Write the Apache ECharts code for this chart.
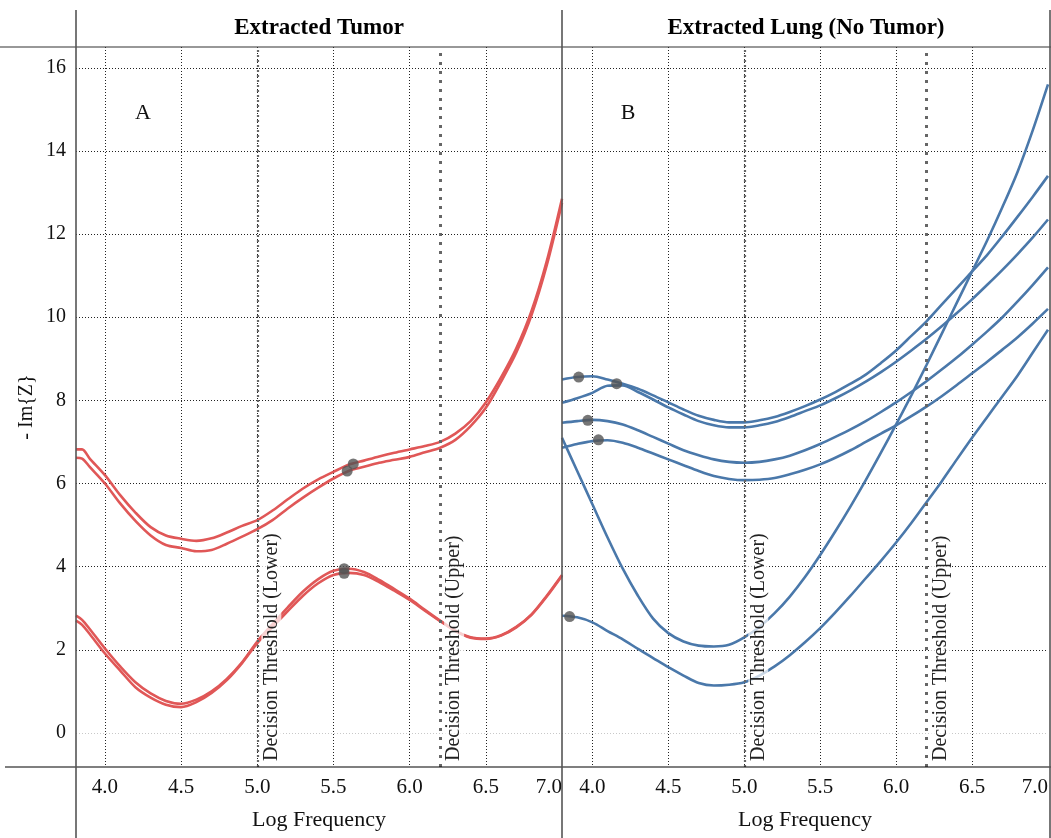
<!DOCTYPE html>
<html>
<head>
<meta charset="utf-8">
<script src="https://cdn.jsdelivr.net/npm/echarts@6/dist/echarts.min.js"></script>
<style>
  html, body { margin: 0; padding: 0; background: #fff; }
  #chart { width: 1051px; height: 838px; }
</style>
</head>
<body>
<div id="chart"></div>
<script>
// panel A: extracted tumor
var tumorX = [3.81, 3.85, 3.9, 4.0, 4.1, 4.2, 4.3, 4.4, 4.5, 4.6, 4.7, 4.8, 4.9, 5.0, 5.1, 5.2, 5.3, 5.4,
              5.5, 5.6, 5.7, 5.8, 5.9, 6.0, 6.1, 6.2, 6.3, 6.4, 6.5, 6.6, 6.7, 6.8, 6.9, 7.0];
var tumorUpperA = [6.82, 6.82, 6.6, 6.2, 5.72, 5.3, 4.95, 4.75, 4.67, 4.62, 4.68, 4.82, 4.98, 5.12, 5.35, 5.62, 5.88, 6.1,
                   6.28, 6.45, 6.55, 6.65, 6.74, 6.82, 6.9, 7.0, 7.2, 7.5, 7.95, 8.55, 9.25, 10.15, 11.35, 12.85];
var tumorUpperB = [6.62, 6.6, 6.4, 6.0, 5.52, 5.1, 4.75, 4.52, 4.45, 4.37, 4.4, 4.55, 4.72, 4.9, 5.12, 5.4, 5.66, 5.9,
                   6.12, 6.3, 6.4, 6.5, 6.57, 6.64, 6.75, 6.86, 7.05, 7.38, 7.82, 8.45, 9.15, 10.05, 11.25, 12.75];
var tumorLowerA = [2.82, 2.72, 2.5, 2.03, 1.6, 1.22, 0.95, 0.77, 0.7, 0.8, 1.0, 1.3, 1.7, 2.2, 2.62, 3.02, 3.4, 3.7,
                   3.9, 3.95, 3.87, 3.68, 3.46, 3.23, 2.96, 2.7, 2.46, 2.3, 2.27, 2.35, 2.55, 2.85, 3.3, 3.8];
var tumorLowerB = [2.7, 2.6, 2.38, 1.91, 1.5, 1.1, 0.85, 0.68, 0.62, 0.74, 0.96, 1.27, 1.68, 2.16, 2.55, 2.93, 3.3, 3.6,
                   3.8, 3.85, 3.8, 3.63, 3.42, 3.2, 2.94, 2.69, 2.45, 2.29, 2.26, 2.34, 2.54, 2.84, 3.28, 3.78];
var tumorDots = [[5.63, 6.47], [5.59, 6.30], [5.57, 3.95], [5.57, 3.84]];

// panel B: extracted lung (no tumor)
var lungX = [3.8, 3.9, 4.0, 4.1, 4.2, 4.3, 4.4, 4.5, 4.6, 4.7, 4.8, 4.9, 5.0, 5.1, 5.2, 5.3, 5.4,
             5.5, 5.6, 5.7, 5.8, 5.9, 6.0, 6.1, 6.2, 6.3, 6.4, 6.5, 6.6, 6.7, 6.8, 6.9, 7.0];
var lung1 = [8.5, 8.56, 8.58, 8.5, 8.4, 8.28, 8.12, 7.95, 7.78, 7.63, 7.53, 7.47, 7.47, 7.52, 7.6, 7.72, 7.86,
             8.02, 8.2, 8.4, 8.62, 8.9, 9.2, 9.55, 9.9, 10.3, 10.7, 11.1, 11.5, 11.95, 12.42, 12.9, 13.4];
var lung2 = [7.94, 8.05, 8.18, 8.35, 8.36, 8.2, 8.02, 7.83, 7.66, 7.5, 7.4, 7.35, 7.35, 7.4, 7.48, 7.6, 7.74,
             7.88, 8.05, 8.24, 8.45, 8.68, 8.93, 9.2, 9.48, 9.78, 10.1, 10.43, 10.78, 11.14, 11.52, 11.92, 12.35];
var lung3 = [7.46, 7.5, 7.53, 7.5, 7.42, 7.28, 7.12, 6.96, 6.8, 6.68, 6.58, 6.52, 6.5, 6.52, 6.58, 6.67, 6.8,
             6.95, 7.12, 7.3, 7.5, 7.72, 7.95, 8.2, 8.46, 8.74, 9.03, 9.34, 9.66, 10.0, 10.38, 10.78, 11.2];
var lung4 = [6.86, 6.95, 7.02, 7.04, 6.98, 6.86, 6.72, 6.58, 6.44, 6.3, 6.18, 6.11, 6.08, 6.09, 6.13, 6.22, 6.33,
             6.46, 6.62, 6.8, 7.0, 7.2, 7.4, 7.62, 7.85, 8.1, 8.37, 8.65, 8.93, 9.22, 9.52, 9.85, 10.2];
var lung5 = [7.1, 6.3, 5.5, 4.7, 3.95, 3.3, 2.75, 2.4, 2.2, 2.1, 2.08, 2.12, 2.3, 2.55, 2.88, 3.28, 3.75,
             4.28, 4.85, 5.45, 6.08, 6.74, 7.42, 8.12, 8.85, 9.6, 10.35, 11.1, 11.85, 12.65, 13.5, 14.5, 15.6];
var lung6 = [2.82, 2.78, 2.66, 2.45, 2.25, 2.02, 1.8, 1.58, 1.38, 1.2, 1.14, 1.16, 1.22, 1.38, 1.6, 1.87, 2.18,
             2.52, 2.9, 3.3, 3.72, 4.14, 4.58, 5.05, 5.55, 6.05, 6.58, 7.1, 7.6, 8.1, 8.6, 9.15, 9.7];
var lungDots = [[3.91, 8.56], [4.16, 8.4], [3.97, 7.52], [4.04, 7.05], [3.85, 2.8]];

var thresholds = [
    {name: 'Decision Threshold (Lower)', x: 5.0},
    {name: 'Decision Threshold (Upper)', x: 6.2}
];
var yTickColors = ['#c8c8c8', '#222', '#222', '#222', '#222', '#222', '#222', '#222', '#222'];

var serif = 'Liberation Serif';
var red = '#e05757';
var blue = '#4a78aa';

function pairs(xs, ys) {
    var res = [];
    for (var i = 0; i < xs.length; i++) {
        res.push([xs[i], ys[i]]);
    }
    return res;
}

function curve(xs, ys, color, idx) {
    return {
        type: 'line',
        xAxisIndex: idx,
        yAxisIndex: idx,
        data: pairs(xs, ys),
        showSymbol: false,
        smooth: 0.3,
        lineStyle: {color: color, width: 2.6},
        z: 3
    };
}

function thresholdLines() {
    return {
        silent: true,
        symbol: 'none',
        data: thresholds.map(function (t, i) {
            return {
                name: t.name,
                xAxis: t.x,
                lineStyle: i === 0
                    ? {color: '#666', width: 2.2, type: [2, 3]}
                    : {color: '#666', width: 3, type: [3, 6]}
            };
        }),
        label: {
            show: true,
            position: 'insideStartBottom',
            distance: 4,
            formatter: '{b}',
            fontFamily: serif,
            fontSize: 20,
            color: '#222',
            backgroundColor: 'rgba(255,255,255,0.72)',
            padding: [0, 2, 0, 2]
        },
        z: 5
    };
}

function xAxisFor(idx, min) {
    return {
        type: 'value',
        gridIndex: idx,
        min: min,
        max: 7.0,
        splitNumber: 6,
        name: 'Log Frequency',
        nameLocation: 'middle',
        nameGap: 42,
        nameTextStyle: {fontFamily: serif, fontSize: 22, color: '#111'},
        axisLine: {show: false},
        axisTick: {show: false},
        axisLabel: {
            fontFamily: serif, fontSize: 21, color: '#111', margin: 10,
            showMinLabel: false, alignMaxLabel: 'right',
            formatter: function (v) { return v.toFixed(1); }
        },
        splitLine: {
            show: true, showMinLine: false, showMaxLine: false,
            lineStyle: {color: '#222', type: [1, 2], width: 1}
        }
    };
}

function yAxisFor(idx, showLabels) {
    return {
        type: 'value',
        gridIndex: idx,
        min: -0.82,
        max: 16.5,
        splitNumber: 8,
        name: showLabels ? '- Im{Z}' : '',
        nameLocation: 'middle',
        nameGap: 39,
        nameTextStyle: {fontFamily: serif, fontSize: 20, color: '#111'},
        axisLine: {show: false},
        axisTick: {show: false},
        axisLabel: {
            show: showLabels, fontFamily: serif, fontSize: 20, color: '#111', margin: 10,
            showMinLabel: false, showMaxLabel: false
        },
        splitLine: {
            show: true, showMinLine: false, showMaxLine: false,
            lineStyle: {color: yTickColors, type: [1, 2], width: 1}
        }
    };
}

var series = [];
[tumorUpperA, tumorUpperB, tumorLowerA, tumorLowerB].forEach(function (ys) {
    series.push(curve(tumorX, ys, red, 0));
});
[lung1, lung2, lung3, lung4, lung5, lung6].forEach(function (ys) {
    series.push(curve(lungX, ys, blue, 1));
});
series[0].markLine = thresholdLines();
series[4].markLine = thresholdLines();
series.push({
    type: 'scatter', xAxisIndex: 0, yAxisIndex: 0, data: tumorDots,
    symbolSize: 11, itemStyle: {color: '#545454'}, z: 6
});
series.push({
    type: 'scatter', xAxisIndex: 1, yAxisIndex: 1, data: lungDots,
    symbolSize: 11, itemStyle: {color: '#545454'}, z: 6
});

var frame = '#333';
var option = {
    animation: false,
    backgroundColor: '#fff',
    grid: [
        {left: 76, top: 47, width: 486, height: 720},
        {left: 562, top: 47, width: 488, height: 720}
    ],
    xAxis: [xAxisFor(0, 3.81), xAxisFor(1, 3.80)],
    yAxis: [yAxisFor(0, true), yAxisFor(1, false)],
    series: series,
    graphic: [
        {type: 'line', shape: {x1: 0, y1: 47, x2: 1051, y2: 47}, style: {stroke: frame, lineWidth: 1.2}, z: 10},
        {type: 'line', shape: {x1: 5, y1: 767, x2: 1051, y2: 767}, style: {stroke: '#000', lineWidth: 1.2}, z: 10},
        {type: 'line', shape: {x1: 76, y1: 10, x2: 76, y2: 838}, style: {stroke: '#555', lineWidth: 1.6}, z: 10},
        {type: 'line', shape: {x1: 562, y1: 10, x2: 562, y2: 838}, style: {stroke: '#555', lineWidth: 1.6}, z: 10},
        {type: 'line', shape: {x1: 1050, y1: 10, x2: 1050, y2: 838}, style: {stroke: '#555', lineWidth: 1.6}, z: 10},
        {type: 'text', x: 319, y: 28, z: 10,
         style: {text: 'Extracted Tumor', align: 'center', verticalAlign: 'middle',
                 font: 'bold 23px "Liberation Serif"', fill: '#000'}},
        {type: 'text', x: 806, y: 28, z: 10,
         style: {text: 'Extracted Lung (No Tumor)', align: 'center', verticalAlign: 'middle',
                 font: 'bold 23px "Liberation Serif"', fill: '#000'}},
        {type: 'text', x: 143, y: 113, z: 10,
         style: {text: 'A', align: 'center', verticalAlign: 'middle',
                 font: '22px "Liberation Serif"', fill: '#111'}},
        {type: 'text', x: 628, y: 113, z: 10,
         style: {text: 'B', align: 'center', verticalAlign: 'middle',
                 font: '22px "Liberation Serif"', fill: '#111'}}
    ]
};

var chart = echarts.init(document.getElementById('chart'));
chart.setOption(option);
</script>
</body>
</html>
